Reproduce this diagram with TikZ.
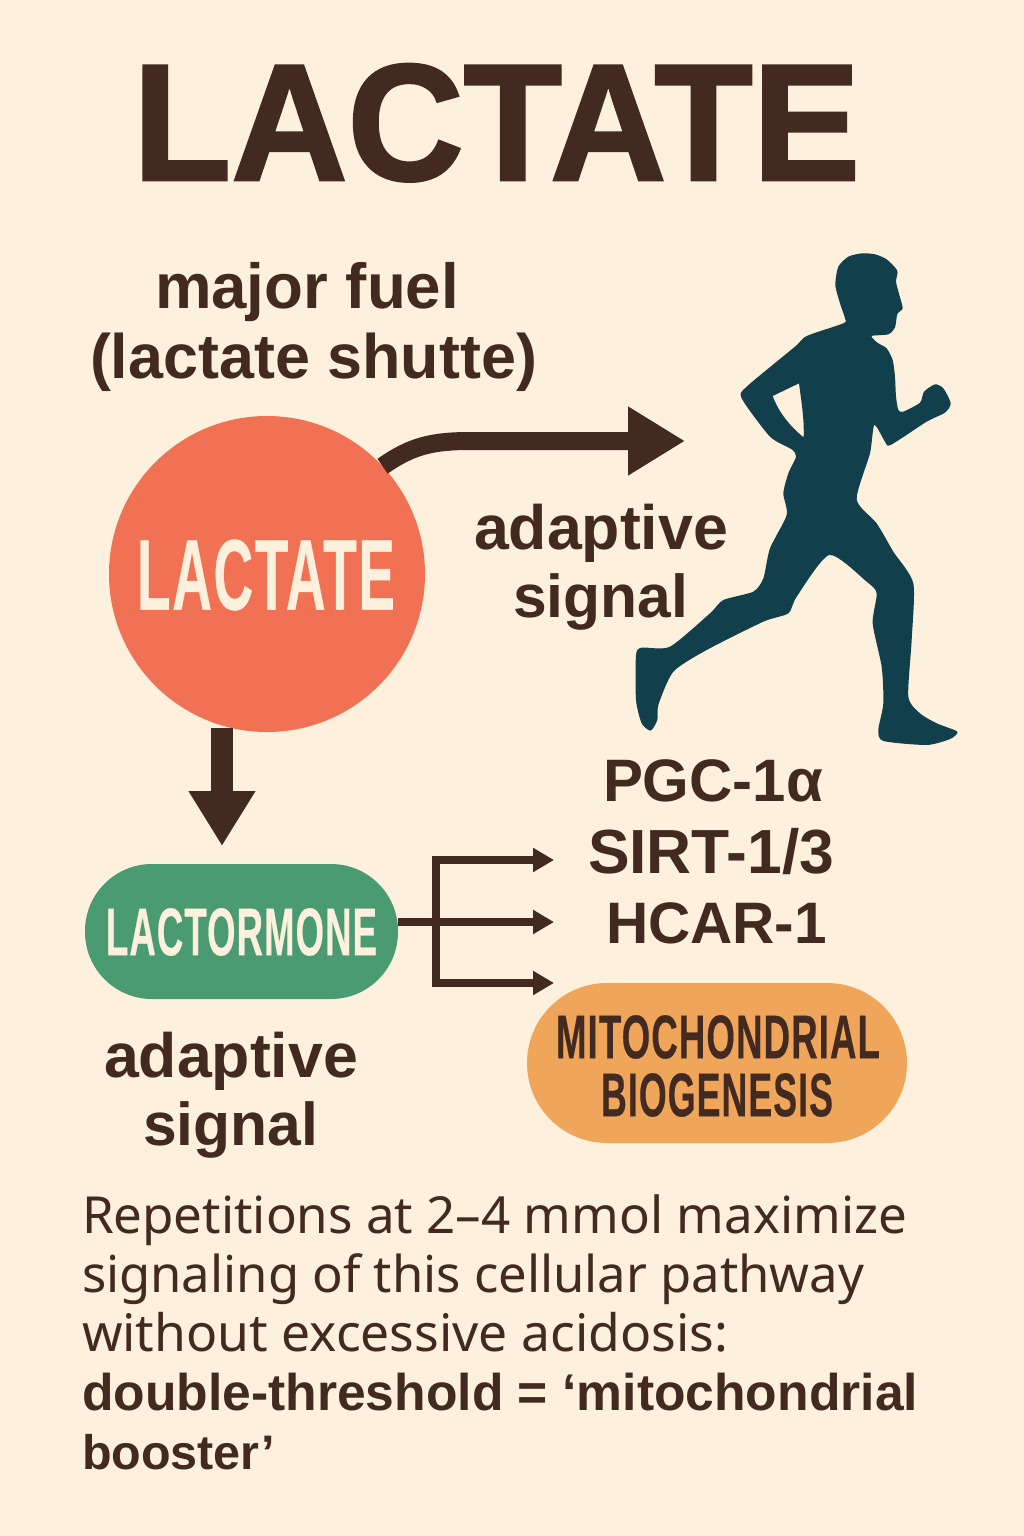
\documentclass[tikz,border=0pt]{standalone}
\usepackage{fontspec}
\usepackage{graphicx}
\setmainfont{Liberation Sans}
\newfontfamily\bodyfont{Noto Sans}
\newfontfamily\heavyfont[FakeBold=1.6]{Liberation Sans Bold}
\newfontfamily\condfont[FakeBold=0.5,LetterSpace=3]{Liberation Sans Bold}
\usetikzlibrary{arrows.meta}
\definecolor{bgc}{HTML}{FDF0DC}
\definecolor{ink}{HTML}{432A20}
\definecolor{coral}{HTML}{F07153}
\definecolor{leaf}{HTML}{4A9B72}
\definecolor{amber}{HTML}{EFA55A}
\definecolor{petrol}{HTML}{123F4C}
\definecolor{cream}{HTML}{FDF0DC}
\newcommand{\fitw}[2]{\resizebox{#1pt}{!}{#2}}
\newcommand{\fitwh}[3]{\resizebox{#1pt}{#2pt}{#3}}
\tikzset{
  txt/.style={anchor=base west,inner sep=0pt,outer sep=0pt,text=ink,font=\fontsize{50}{50}\selectfont\bodyfont},
  btxt/.style={anchor=base west,inner sep=0pt,outer sep=0pt,text=ink,font=\fontsize{50}{50}\selectfont\bfseries},
  cond/.style={inner sep=0pt,outer sep=0pt,font=\fontsize{50}{50}\selectfont\condfont},
  branch/.style={draw=ink,line width=8.5pt,-{Triangle[length=21pt,width=23pt]}},
}
\begin{document}
\begin{tikzpicture}[x=1pt,y=-1pt]
\useasboundingbox (0,0) rectangle (1024,1536);
\fill[bgc] (0,0) rectangle (1024,1536);
% title
\node[inner sep=0pt,outer sep=0pt,anchor=base west,text=ink,font=\fontsize{50}{50}\selectfont\heavyfont] (title) at (133,180) {\fitwh{727}{116}{LACTATE}};
% heading
\node[btxt] (fuelA) at (155,308) {\fitw{304}{major fuel}};
\node[btxt] (fuelB) at (90,378) {\fitw{447}{(lactate shutte)}};
% circle
\node[circle,fill=coral,minimum size=316pt,inner sep=0pt,outer sep=0pt] (circ) at (267,574) {};
\node[cond,text=cream] (circT) at (266,575) {\fitwh{258}{70}{LACTATE}};
% adaptive 1
\node[btxt] (adA) at (474,549) {\fitw{254}{adaptive}};
\node[btxt] (adB) at (513,617) {\fitw{175}{signal}};
% runner
\begin{scope}[shift={(620,240)},x=0.33333pt,y=-0.33333pt]
\fill[petrol,even odd rule] plot[smooth cycle,tension=0.4] coordinates {
(725,40)(765,43)(800,58)(832,92)(828,125)(838,165)(848,205)(832,222)(825,262)(805,283)(755,288)(772,308)(800,325)(818,360)(825,410)(828,470)(835,510)(850,515)(900,488)(912,455)(945,433)(970,445)(992,490)(975,518)(920,545)(812,615)(795,605)(763,555)(750,640)(710,778)(770,850)(820,935)(880,1030)(875,1200)(865,1370)(900,1420)(950,1450)(1012,1475)(990,1497)(920,1515)(790,1503)(775,1470)(790,1390)(785,1280)(758,1150)(770,1060)(740,1025)(628,945)(530,1070)(505,1120)(430,1145)(260,1230)(160,1295)(115,1395)(112,1440)(92,1472)(65,1450)(48,1380)(48,1245)(65,1223)(150,1220)(270,1120)(310,1080)(400,1055)(430,1015)(450,925)(500,825)(490,760)(505,700)(528,650)(515,628)(450,590)(365,475)(380,440)(525,320)(560,288)(670,250)(675,235)(660,190)(646,135)(655,80)(685,50)}
(537,430) -- (458,468) .. controls (475,515) and (510,560) .. (551,592) .. controls (553,540) and (545,490) .. cycle;
\end{scope}
% arrows from circle
\coordinate (runnerIn) at (685,441);
\coordinate (pillTop) at (222,846);
\draw[line width=18pt,draw=ink,-{Triangle[length=57pt,width=65pt]}] (circ.43) .. controls (410,447) and (430,441) .. (470,441) -- (runnerIn);
\draw[line width=22pt,draw=ink,-{Triangle[length=55pt,width=63pt]}] (222,728) -- (pillTop);
% lactormone
\node[fill=leaf,rounded corners=67pt,minimum width=313pt,minimum height=135pt,inner sep=0pt,outer sep=0pt] (pill) at (241.5,931.5) {};
\node[cond,text=cream] (pillT) at (241.5,932) {\fitwh{271}{47}{LACTORMONE}};
\node[btxt] (adC) at (104,1077) {\fitw{254}{adaptive}};
\node[btxt] (adD) at (143,1145) {\fitw{175}{signal}};
% markers
\node[btxt] (pgc) at (603,801) {\fitw{220}{PGC-1α}};
\node[btxt] (sirt) at (588,873) {\fitw{246}{SIRT-1/3}};
\node[btxt] (hcar) at (606,943) {\fitw{221}{HCAR-1}};
% orange
\node[fill=amber,rounded corners=80pt,minimum width=380pt,minimum height=160pt,inner sep=0pt,outer sep=0pt] (mito) at (717,1063) {};
\node[cond,text=ink] (mitoA) at (718,1037) {\fitwh{324}{43}{MITOCHONDRIAL}};
\node[cond,text=ink] (mitoB) at (717,1095) {\fitwh{232}{43}{BIOGENESIS}};
% branches
\coordinate (b1) at (554,860);
\coordinate (b2) at (554,922);
\coordinate (b3) at (554,983);
\coordinate (fork) at (436,922);
\draw[draw=ink,line width=8.5pt] (pill.east |- fork) -- (fork);
\draw[branch] (fork) -- (b2);
\draw[branch,line join=miter] (fork) -- (fork |- b1) -- (b1);
\draw[branch,line join=miter] (fork) -- (fork |- b3) -- (b3);
% body
\node[txt] (l1) at (82,1233) {\fitw{825}{Repetitions at 2–4 mmol maximize}};
\node[txt] (l2) at (82,1292) {\fitw{782}{signaling of this cellular pathway}};
\node[txt] (l3) at (82,1351) {\fitw{646}{without excessive acidosis:}};
\node[btxt] (l4) at (82,1410) {\fitw{836}{double-threshold = ‘mitochondrial}};
\node[btxt] (l5) at (82,1469) {\fitw{193}{booster’}};
\end{tikzpicture}
\end{document}
